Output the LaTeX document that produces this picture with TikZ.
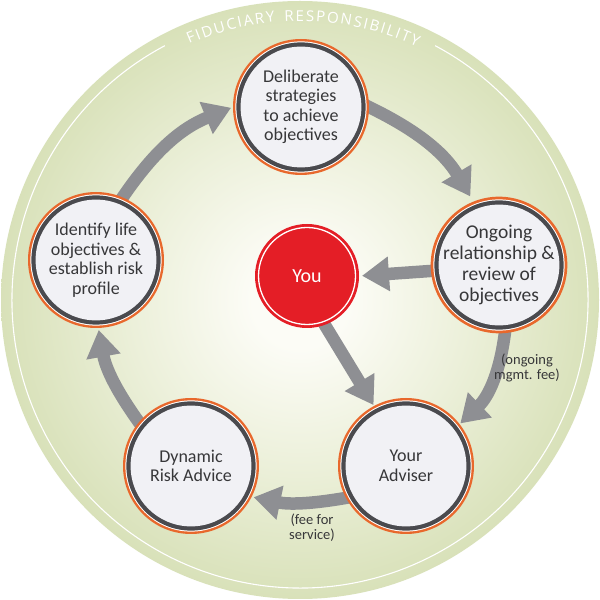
\documentclass[tikz,border=0pt]{standalone}
\usepackage{fontspec}
\setmainfont{Carlito}
\newfontfamily\fidfontfam{Open Sans}
\usetikzlibrary{arrows.meta,calc}

\definecolor{ringorange}{RGB}{232,104,44}
\definecolor{ringgray}{RGB}{74,74,78}
\definecolor{nodefill}{RGB}{241,241,245}
\definecolor{youred}{RGB}{228,30,38}
\definecolor{arrowgray}{RGB}{142,143,147}
\definecolor{txtgray}{RGB}{55,55,57}
\definecolor{bgcenter}{RGB}{252,252,246}
\definecolor{bgin}{RGB}{236,240,218}
\definecolor{bgmid}{RGB}{211,221,176}
\definecolor{bgout}{RGB}{197,209,157}
\definecolor{bgedge}{RGB}{187,200,146}

\pgfdeclareradialshading{bgshade}{\pgfpoint{0bp}{0bp}}{color(0bp)=(bgcenter); color(4bp)=(bgcenter); color(14bp)=(bgin); color(28bp)=(bgmid); color(40bp)=(bgout); color(47bp)=(bgedge); color(50bp)=(bgedge)}

\pgfdeclarelayer{discl}
\pgfdeclarelayer{arrowl}
\pgfsetlayers{discl,arrowl,main}

\def\fidStar{*}

\tikzset{
  stepnode/.style={circle, minimum size=136pt, inner sep=0pt, outer sep=0pt,
    fill=ringorange, text=txtgray, align=center,
    font=\fontsize{18}{19.5}\selectfont,
    path picture={
      \fill[white] (path picture bounding box.center) circle[radius=65.6pt];
      \fill[ringgray] (path picture bounding box.center) circle[radius=64.6pt];
      \fill[nodefill] (path picture bounding box.center) circle[radius=60.4pt];
    }},
  younode/.style={circle, minimum size=104pt, inner sep=0pt, outer sep=0pt,
    fill=youred, text=white, font=\fontsize{20}{24}\selectfont,
    path picture={\draw[white, line width=1.3pt] (path picture bounding box.center) circle[radius=48.5pt];}},
  flow/.style={draw=arrowgray, line width=12.5pt, -{Triangle[width=33pt,length=27pt]}, shorten <=-6pt},
  note/.style={text=txtgray, align=center, font=\fontsize{14.5}{15}\selectfont}
}

\begin{document}
\begin{tikzpicture}[x=1pt,y=1pt]
\useasboundingbox (0,0) rectangle (600,600);

\begin{pgfonlayer}{discl}
\fill[white] (0,0) rectangle (600,600);
\shade[shading=bgshade] (300,300) circle[radius=299pt];
\draw[white, line width=1.1pt] (300,300) ++(118:288pt) arc[start angle=118, end angle=422, radius=288pt];
\end{pgfonlayer}

% arc text
\begin{scope}[shift={(300,300)}]
\fidfontfam\fontsize{15}{17}\selectfont
\def\fidR{279}
\def\fidSp{1.8}
\xdef\fidTot{0}
\foreach \ch in {F,I,D,U,C,I,A,R,Y,*,R,E,S,P,O,N,S,I,B,I,L,I,T,Y}{
  \ifx\ch\fidStar \def\fidW{6}\else\pgfmathsetmacro\fidW{width("\ch")}\fi
  \pgfmathsetmacro\fidT{\fidTot+\fidW+\fidSp}
  \xdef\fidTot{\fidT}
}
\pgfmathsetmacro\fidS{89.3+deg((\fidTot-\fidSp)/2/\fidR)}
\xdef\fidCur{\fidS}
\foreach \ch in {F,I,D,U,C,I,A,R,Y,*,R,E,S,P,O,N,S,I,B,I,L,I,T,Y}{
  \ifx\ch\fidStar \def\fidW{6}\else\pgfmathsetmacro\fidW{width("\ch")}\fi
  \pgfmathsetmacro\fidA{\fidCur-deg(\fidW/2/\fidR)}
  \ifx\ch\fidStar\else
    \node[text=white, inner sep=0pt, anchor=base, rotate=\fidA-90] at (\fidA:\fidR pt) {\ch};
  \fi
  \pgfmathsetmacro\fidN{\fidCur-deg((\fidW+\fidSp)/\fidR)}
  \xdef\fidCur{\fidN}
}
\end{scope}

% nodes
\node[stepnode] (top) at (301,493) {Deliberate\\strategies\\to achieve\\objectives};
\node[stepnode, font=\fontsize{19.5}{21}\selectfont] (right) at (499,335) {Ongoing\\relationship \&\\review of\\objectives};
\node[stepnode] (adviser) at (406,134) {Your\\Adviser};
\node[stepnode] (dynamic) at (191,134) {Dynamic\\Risk Advice};
\node[stepnode] (left) at (96,340) {Identify life\\objectives \&\\establish risk\\profile};
\node[younode] (you) at (307,324) {You};

% arrows beneath the nodes
\begin{pgfonlayer}{arrowl}
\draw[flow, shorten >=2pt] (left.67) to[bend left=17] (top.180);
\draw[flow, shorten >=6pt] (top.0) to[bend left=17] (right.112);
\draw[flow, shorten >=1pt] (right.275) to[bend left=20] (adviser.38);
\draw[flow, shorten >=2pt] (adviser.208) to[bend left=11] (dynamic.333);
\draw[flow, shorten >=2pt] (dynamic.140) to[bend left=13] (left.272);
\draw[flow, shorten >=3pt] (right.185) -- (you.0);
\draw[flow, shorten >=1pt] (you.290) -- (adviser.118);
\end{pgfonlayer}

\node[note] (fee1) at (527,232) {(ongoing\\mgmt. fee)};
\node[note] (fee2) at (312,72) {(fee for\\service)};
\end{tikzpicture}
\end{document}
